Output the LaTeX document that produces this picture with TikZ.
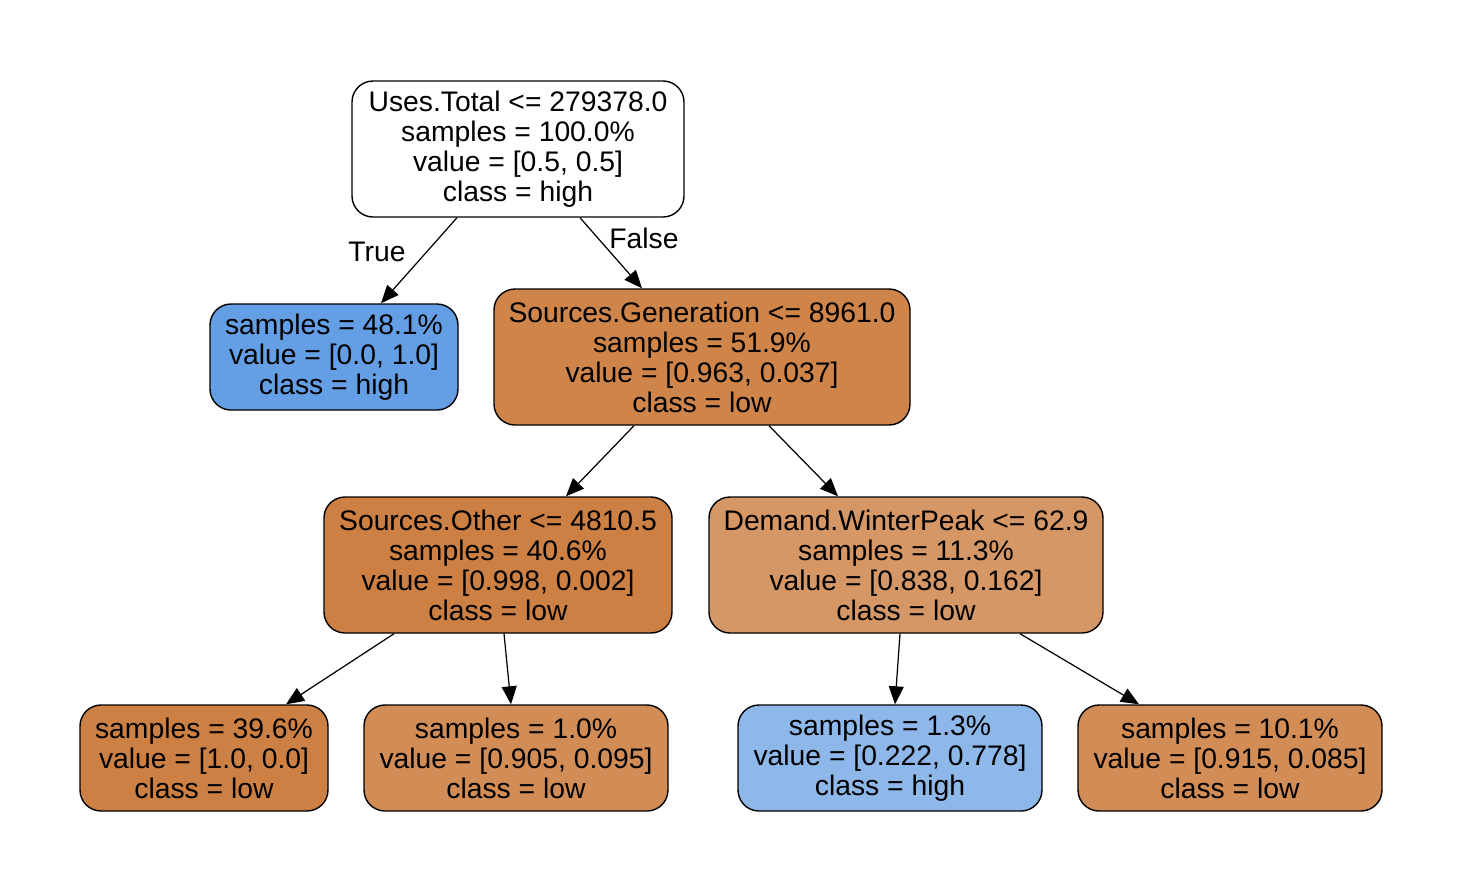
\documentclass[tikz,border=0pt]{standalone}
\usepackage{fontspec}
\setmainfont{Liberation Sans}
\usepackage{xcolor}
\usepackage{tikz}
\usetikzlibrary{arrows.meta, positioning}
\definecolor{leafblue}{RGB}{100,158,229}
\definecolor{paleblue}{RGB}{142,184,234}
\definecolor{lowfull}{RGB}{205,128,67}
\definecolor{lowdeep}{RGB}{207,133,74}
\definecolor{lowmid}{RGB}{210,140,85}
\definecolor{lowpale}{RGB}{214,151,102}
\tikzset{
  treenode/.style={draw=black, line width=0.8pt, rounded corners=0.42cm, align=center,
    inner sep=0pt, font=\fontsize{16.1}{17.1}\selectfont},
  splitbox/.style={treenode, minimum height=2.72cm},
  leafbox/.style={treenode, minimum height=2.12cm},
  branch/.style={line width=0.7pt, -{Triangle[length=0.36cm, width=0.3cm]}},
  edgelabel/.style={font=\fontsize{16.1}{17.1}\selectfont}
}

\begin{document}
\begin{tikzpicture}
  \useasboundingbox (0,0) rectangle (29.24,-17.8);

  % Root split
  \node[splitbox, fill=white, minimum width=6.64cm] (root) at (10.36,-2.98)
    {Uses.Total <= 279378.0\\samples = 100.0\%\\value = [0.5, 0.5]\\class = high};

  % Second level
  \node[leafbox, fill=leafblue, minimum width=4.96cm] (leafa) at (6.68,-7.14)
    {samples = 48.1\%\\value = [0.0, 1.0]\\class = high};
  \node[splitbox, fill=lowdeep, minimum width=8.32cm] (gen) at (14.04,-7.14)
    {Sources.Generation <= 8961.0\\samples = 51.9\%\\value = [0.963, 0.037]\\class = low};

  % Third level
  \node[splitbox, fill=lowfull, minimum width=6.96cm] (other) at (9.96,-11.30)
    {Sources.Other <= 4810.5\\samples = 40.6\%\\value = [0.998, 0.002]\\class = low};
  \node[splitbox, fill=lowpale, minimum width=7.88cm] (winter) at (18.12,-11.30)
    {Demand.WinterPeak <= 62.9\\samples = 11.3\%\\value = [0.838, 0.162]\\class = low};

  % Leaves
  \node[leafbox, fill=lowfull, minimum width=4.96cm] (leafb) at (4.08,-15.16)
    {samples = 39.6\%\\value = [1.0, 0.0]\\class = low};
  \node[leafbox, fill=lowmid, minimum width=6.08cm] (leafc) at (10.32,-15.16)
    {samples = 1.0\%\\value = [0.905, 0.095]\\class = low};
  \node[leafbox, fill=paleblue, minimum width=6.08cm] (leafd) at (17.80,-15.16)
    {samples = 1.3\%\\value = [0.222, 0.778]\\class = high};
  \node[leafbox, fill=lowmid, minimum width=6.08cm] (leafe) at (24.60,-15.16)
    {samples = 10.1\%\\value = [0.915, 0.085]\\class = low};

  % Branches
  \draw[branch] ([xshift=-1.22cm]root.south) -- ([xshift=0.94cm]leafa.north);
  \draw[branch] ([xshift=1.24cm]root.south) -- ([xshift=-1.2cm]gen.north);
  \draw[branch] ([xshift=-1.36cm]gen.south) -- ([xshift=1.36cm]other.north);
  \draw[branch] ([xshift=1.34cm]gen.south) -- ([xshift=-1.36cm]winter.north);
  \draw[branch] ([xshift=-2.08cm]other.south) -- ([xshift=1.64cm]leafb.north);
  \draw[branch] ([xshift=0.12cm]other.south) -- ([xshift=-0.1cm]leafc.north);
  \draw[branch] ([xshift=-0.12cm]winter.south) -- ([xshift=0.1cm]leafd.north);
  \draw[branch] ([xshift=2.28cm]winter.south) -- ([xshift=-1.82cm]leafe.north);

  % Branch labels
  \node[edgelabel] (truelbl) at (7.54,-5.04) {True};
  \node[edgelabel] (falselbl) at (12.88,-4.76) {False};
\end{tikzpicture}
\end{document}
